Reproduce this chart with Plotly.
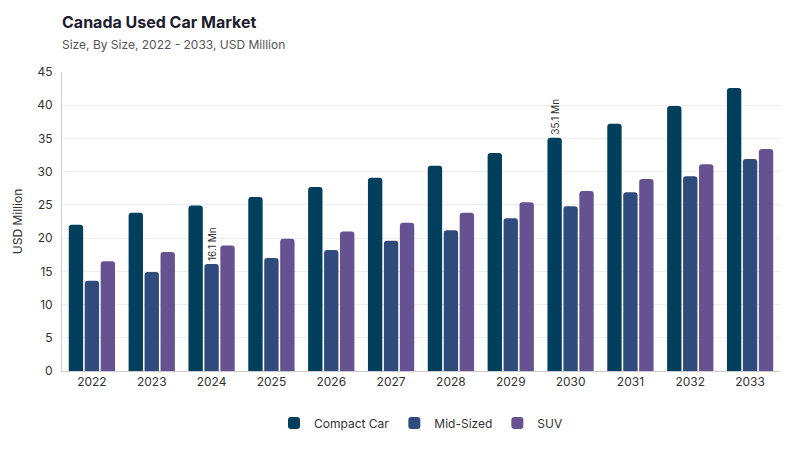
import plotly.graph_objects as go

years = ["2022", "2023", "2024", "2025", "2026", "2027", "2028", "2029", "2030", "2031", "2032", "2033"]
compact_car = [22.0, 23.8, 24.9, 26.2, 27.7, 29.1, 30.9, 32.8, 35.1, 37.2, 39.9, 42.6]
mid_sized = [13.6, 14.9, 16.1, 17.0, 18.2, 19.6, 21.2, 23.0, 24.8, 26.9, 29.3, 31.9]
suv = [16.5, 17.9, 18.9, 19.9, 21.0, 22.3, 23.8, 25.4, 27.1, 28.9, 31.1, 33.4]

label_font = dict(family="Inter", size=10, color="#333333")


def labels(values, year):
    return ["{} Mn".format(v) if y == year else "" for y, v in zip(years, values)]


fig = go.Figure()
fig.add_trace(go.Bar(
    x=years, y=compact_car, name="Compact Car",
    marker=dict(color="#013f5c", cornerradius=3, line=dict(width=0)),
    text=labels(compact_car, "2030"), textposition="outside", textangle=-90,
    constraintext="none", textfont=label_font, cliponaxis=False))
fig.add_trace(go.Bar(
    x=years, y=mid_sized, name="Mid-Sized",
    marker=dict(color="#2f4b7c", cornerradius=3, line=dict(width=0)),
    text=labels(mid_sized, "2024"), textposition="outside", textangle=-90,
    constraintext="none", textfont=label_font, cliponaxis=False))
fig.add_trace(go.Bar(
    x=years, y=suv, name="SUV",
    marker=dict(color="#665191", cornerradius=3, line=dict(width=0)),
    cliponaxis=False))

fig.update_layout(
    width=800,
    height=450,
    barmode="group",
    bargap=0.2,
    bargroupgap=0.1,
    plot_bgcolor="white",
    paper_bgcolor="white",
    font=dict(family="Inter", size=12, color="#333333"),
    # page body adds an 8px offset, so margins are shifted to compensate
    margin={'l': 54, 't': 64, 'b': 87, 'r': 28, 'autoexpand': False},
    title=dict(
        text="<b>Canada Used Car Market</b><br><span style='font-size:12px;color:#555555'>Size, By Size, 2022 - 2033, USD Million</span>",
        x=54 / 800, xanchor="left", y=0.956, yanchor="top",
        font=dict(family="Inter", size=16, color="#1c1c2e")),
    legend=dict(orientation="h", x=0.5, xanchor="center", y=-0.125, yanchor="top",
                font=dict(size=12, color="#333333"), itemsizing="constant", itemwidth=30),
    xaxis=dict(showline=True, linecolor="#cccccc", linewidth=1, ticks="",
               automargin=False, tickfont=dict(size=12, color="#333333")),
    yaxis=dict(range=[0, 45], dtick=5, showgrid=True, gridcolor="#eeeeee",
               showline=True, linecolor="#cccccc", linewidth=1, zeroline=False,
               automargin=True, ticklabelstandoff=6,
               title=dict(text="USD Million", font=dict(size=12, color="#333333"), standoff=12),
               tickfont=dict(size=12, color="#333333")),
)

fig.write_html("out.html")
